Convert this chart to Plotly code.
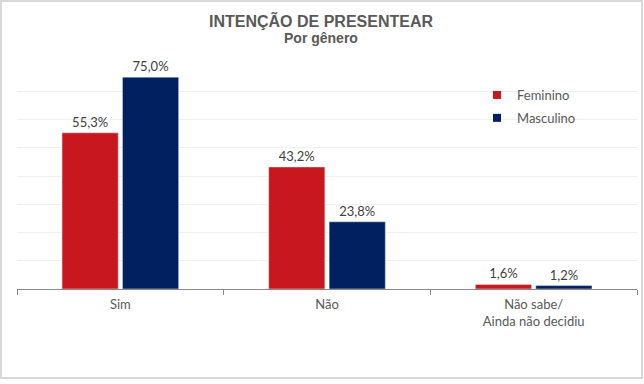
import plotly.graph_objects as go

categories = ["Sim", "Não", "Não sabe/<br>Ainda não decidiu"]
feminino = [55.3, 43.2, 1.6]
masculino = [75.0, 23.8, 1.2]
series_names = ["Feminino", "Masculino"]
colors = ["#C8171E", "#002060"]
title_text = "INTENÇÃO DE PRESENTEAR"
subtitle_text = "Por gênero"

def fmt(v):
    return f"{v:.1f}%".replace(".", ",")

fig = go.Figure()
for name, vals, col in zip(series_names, [feminino, masculino], colors):
    fig.add_trace(go.Bar(
        x=categories, y=vals, name=name, marker_color=col, showlegend=False,
        text=[fmt(v) for v in vals], textposition="outside", cliponaxis=False,
        textfont=dict(family="Lato", size=13, color="#404040"),
    ))
for i, (name, col) in enumerate(zip(series_names, colors)):
    fig.add_trace(go.Scatter(
        x=[None], y=[None], mode="markers", name=name, legendgroup=name,
        marker=dict(symbol="square", size=8, color=col),
    ))

L, R, T, B = 17, 7, 63, 95
W, H = 644, 384
pw, ph = W - L - R, H - T - B

def px_x(x):
    return (x - L) / pw

def px_y(y):
    return (H - B - y) / ph

fig.update_layout(
    width=W, height=H,
    margin=dict(l=L, r=R, t=T, b=B),
    paper_bgcolor="white", plot_bgcolor="white",
    barmode="group", bargap=0.415, bargroupgap=0.07,
    legend=dict(
        x=px_x(477), y=px_y(80), xanchor="left", yanchor="top",
        font=dict(family="Lato", size=13, color="#595959"),
        tracegroupgap=3, bgcolor="rgba(0,0,0,0)", itemwidth=30,
    ),
    xaxis=dict(
        type="category", showline=True, linecolor="#898989", linewidth=1,
        ticks="outside", tickson="boundaries", ticklen=5, tickcolor="#898989",
        tickfont=dict(family="Lato", size=13, color="#595959"),
        ticklabelstandoff=3,
        showgrid=False,
    ),
    yaxis=dict(
        range=[0, 80], dtick=10, showgrid=True, gridcolor="#EFEFEF",
        showticklabels=False, zeroline=False, showline=False,
    ),
    annotations=[
        dict(text=f"<b>{title_text}</b>", xref="paper", yref="paper",
             x=px_x(W / 2 - 1), y=px_y(20), xanchor="center", yanchor="middle",
             showarrow=False, font=dict(family="Liberation Sans", size=16, color="#595959")),
        dict(text=f"<b>{subtitle_text}</b>", xref="paper", yref="paper",
             x=px_x(W / 2 - 1), y=px_y(38), xanchor="center", yanchor="middle",
             showarrow=False, font=dict(family="Liberation Sans", size=14, color="#595959")),
    ],
    shapes=[dict(
        type="rect", xref="paper", yref="paper",
        x0=px_x(1), x1=px_x(642),
        y0=px_y(378), y1=px_y(1),
        line=dict(color="#D9D9D9", width=2), fillcolor="rgba(0,0,0,0)", layer="below",
    )],
)

fig.write_html(
    "out.html",
    config={"displayModeBar": False},
    post_script="document.body.style.margin='0';document.body.style.overflow='hidden';",
)
